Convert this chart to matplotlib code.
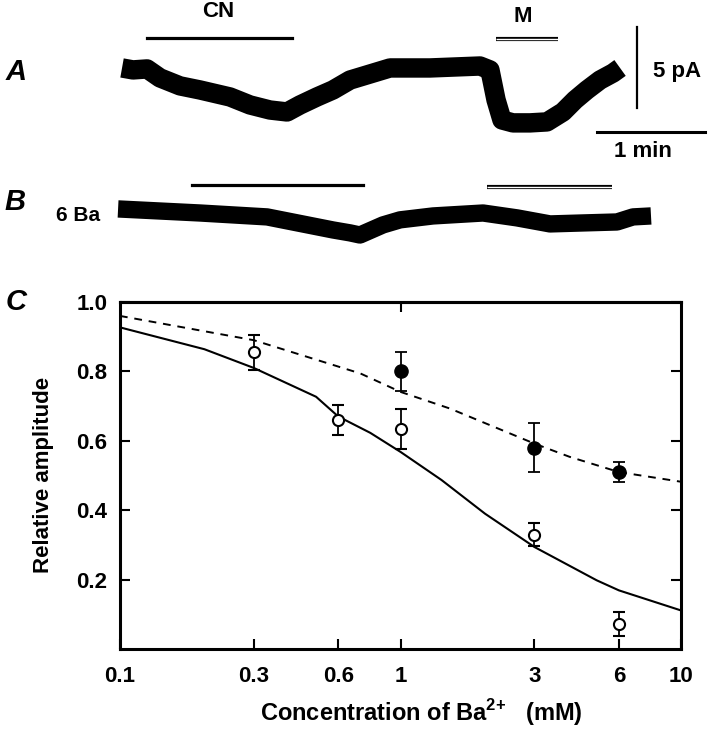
import numpy as np
import matplotlib.pyplot as plt
from matplotlib.ticker import FixedLocator, FixedFormatter, NullLocator

plt.rcParams['font.family'] = ['Liberation Sans', 'DejaVu Sans']
plt.rcParams['font.weight'] = 'bold'
plt.rcParams['mathtext.fontset'] = 'custom'
plt.rcParams['mathtext.rm'] = 'Liberation Sans:bold'
plt.rcParams['mathtext.bf'] = 'Liberation Sans:bold'

# ---- traces (time in s, current in pA) ----
# A: control cell
a_time = [0, 6.1, 13.9, 21.1, 32.2, 43.3, 60.0, 71.1, 82.2, 91.7, 98.9,
          108.3, 117.2, 126.7, 137.8, 148.9, 171.1, 198.9, 204.4, 207.8,
          211.1, 217.2, 226.7, 236.1, 245.0, 251.7, 258.3, 265.6, 272.8, 276.7]
a_curr = [0, -0.12, -0.06, -0.61, -1.10, -1.35, -1.78, -2.27, -2.58, -2.70,
          -2.27, -1.78, -1.35, -0.74, -0.37, 0, 0, 0.12, -0.12, -1.96,
          -3.19, -3.37, -3.37, -3.31, -2.70, -1.96, -1.35, -0.74, -0.31, 0]
# B: in 6 mM Ba
b_start = -2.2
b_offset = -8.65
b_time = [0, 45.6, 82.8, 119.4, 128.9, 134.4, 147.2, 156.7, 175, 202.8,
          221.7, 240, 258.3, 277.2, 286.1, 296.1]
b_curr = [0, -0.25, -0.49, -1.29, -1.47, -1.60, -0.98, -0.67, -0.43, -0.25,
          -0.55, -0.92, -0.86, -0.80, -0.49, -0.43]

# drug application periods (s)
a_cn = [13.7, 94.3]
a_m = [207.8, 242.4]
b_cn = [38.7, 134.1]
b_m = [202.6, 272.4]

# ---- dose-response ----
conc_open = [0.3, 0.6, 1, 3, 6]
amp_open = [0.855, 0.66, 0.635, 0.33, 0.073]
err_open = [0.05, 0.042, 0.058, 0.034, 0.035]

conc_fill = [1, 3, 6]
amp_fill = [0.80, 0.58, 0.51]
err_fill = [0.055, 0.07, 0.03]

fit_conc = [0.1, 0.2, 0.3, 0.5, 0.6, 0.78, 1.0, 1.4, 2.0, 3.0, 5.0, 6.0, 10]
fit_solid = [0.927, 0.864, 0.81, 0.727, 0.67, 0.623, 0.568, 0.487, 0.39,
             0.294, 0.198, 0.169, 0.111]
dash_conc = [0.1, 0.3, 0.72, 1.0, 1.5, 3.0, 4.0, 6.0, 10]
fit_dashed = [0.96, 0.89, 0.794, 0.741, 0.693, 0.592, 0.554, 0.51, 0.482]

x_ticks = [0.1, 0.3, 0.6, 1, 3, 6, 10]
x_labels = ['0.1', '0.3', '0.6', '1', '3', '6', '10']
y_ticks = [0.2, 0.4, 0.6, 0.8, 1.0]

fig = plt.figure(figsize=(7.14, 7.34), dpi=100)

# top part: current traces
ax_tr = fig.add_axes([0, 0.6594, 1, 0.3406])
ax_tr.set_xlim(-67.8, 328.9)
ax_tr.set_ylim(-11.17, 4.17)
ax_tr.axis('off')

ax_tr.plot(a_time, a_curr, color='black', lw=14, solid_joinstyle='round',
           solid_capstyle='butt')
ax_tr.plot(np.array(b_time) + b_start, np.array(b_curr) + b_offset,
           color='black', lw=12.5, solid_joinstyle='round', solid_capstyle='butt')

# application bars
ax_tr.plot(a_cn, [1.82, 1.82], color='black', lw=2.3)
ax_tr.plot(b_cn, [-7.18, -7.18], color='black', lw=2.3)
for per, lev in [(a_m, 1.78), (b_m, -7.33)]:
    ax_tr.plot(per, [lev, lev], color='black', lw=3.0, solid_capstyle='butt')
    ax_tr.plot(per, [lev, lev], color='white', lw=1.0, solid_capstyle='butt')

# scale bars
ax_tr.plot([285.9, 285.9], [2.53, -2.47], color='black', lw=1.6)
ax_tr.plot([263.7, 323.7], [-3.94, -3.94], color='black', lw=2.2)

fig.text(0.305, 0.984, 'CN', fontsize=16, ha='center', va='center')
fig.text(0.7325, 0.978, 'M', fontsize=16, ha='center', va='center')
fig.text(0.948, 0.902, '5 pA', fontsize=16, ha='center', va='center')
fig.text(0.9006, 0.793, '1 min', fontsize=16, ha='center', va='center')
fig.text(0.109, 0.707, '6 Ba', fontsize=15, ha='center', va='center')
for lab, xx, yy in [('A', 0.0224, 0.902), ('B', 0.021, 0.725),
                    ('C', 0.0224, 0.589)]:
    fig.text(xx, yy, lab, fontsize=21, style='italic', ha='center',
             va='center')

# bottom part: dose-response
ax = fig.add_axes([0.168, 0.1158, 0.786, 0.4727])
ax.set_xscale('log')
ax.set_xlim(0.1, 10)
ax.set_ylim(0, 1.0)

ax.plot(fit_conc, fit_solid, color='black', lw=1.5)
ax.plot(dash_conc, fit_dashed, color='black', lw=1.4, dashes=(4, 3.5))
ax.errorbar(conc_open, amp_open, yerr=err_open, fmt='o', mfc='white',
            mec='black', mew=1.5, ms=8, ecolor='black', elinewidth=1.3,
            capsize=4, capthick=1.3, zorder=3)
ax.errorbar(conc_fill, amp_fill, yerr=err_fill, fmt='o', mfc='black',
            mec='black', ms=9.5, ecolor='black', elinewidth=1.3,
            capsize=4, capthick=1.3, zorder=3)

for s in ax.spines.values():
    s.set_linewidth(2.2)

ax.xaxis.set_major_locator(FixedLocator(x_ticks))
ax.xaxis.set_major_formatter(FixedFormatter(x_labels))
ax.xaxis.set_minor_locator(NullLocator())
ax.set_yticks(y_ticks)
ax.set_yticklabels(['%.1f' % v for v in y_ticks])
ax.tick_params(axis='both', direction='in', length=7.5, width=1.5,
               labelsize=16, right=True)
ax.tick_params(axis='x', pad=12)
ax.tick_params(axis='y', pad=9)

top = ax.secondary_xaxis('top')
top.set_xticks([1])
top.set_xticklabels([])
top.xaxis.set_minor_locator(NullLocator())
top.tick_params(direction='in', length=7.5, width=1.5)
top.spines['top'].set_linewidth(2.2)

fig.text(0.5896, 0.0286, r'Concentration of Ba$^{2{+}}$   (mM)', fontsize=17,
         ha='center', va='center')
fig.text(0.0616, 0.353, 'Relative amplitude', fontsize=16, rotation=90,
         ha='center', va='center')

fig.savefig('out.png', dpi=100)
